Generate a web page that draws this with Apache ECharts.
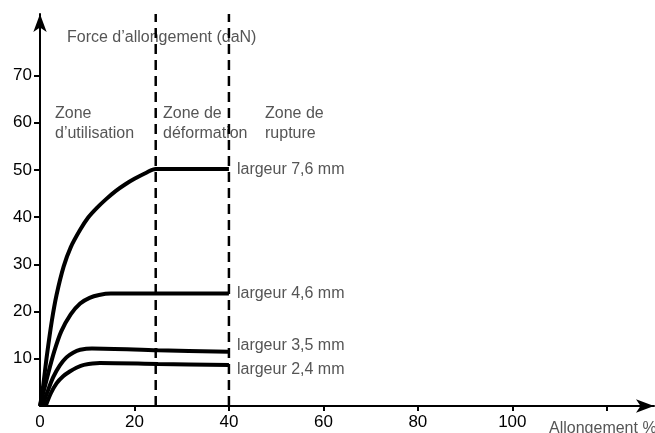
<!DOCTYPE html>
<html><head><meta charset="utf-8">
<script src="https://cdn.jsdelivr.net/npm/echarts@6/dist/echarts.min.js"></script>
<style>html,body{margin:0;padding:0;background:#fff}#c{width:655px;height:433px}</style>
</head><body><div id="c"></div>
<script>
const xTicks = [20, 40, 60, 80, 100, 120];
const xLabels = [0, 20, 40, 60, 80, 100];
const yTicks = [10, 20, 30, 40, 50, 60, 70];
const zoneLimits = [24.5, 40];
const curve76 = [[0,0],[0.5,3],[1.5,11],[2.5,18],[3.5,23.5],[5,29.5],[6.5,33.6],[8.5,37.3],[10.2,39.9],[12,41.9],[14,43.8],[16,45.5],[18,46.9],[20,48.1],[22.5,49.4],[24.5,50.2],[32,50.2],[40,50.2]];
const curve46 = [[0,0],[1.5,6],[3,11.5],[4.5,15.8],[6.5,19.4],[8.5,21.7],[10.5,22.9],[12.5,23.5],[15,23.8],[28,23.8],[40,23.8]];
const curve35 = [[0.5,0],[1.5,2.8],[2.8,6.1],[4.2,8.6],[5.6,10.3],[7,11.3],[8.5,11.9],[11,12.2],[25,11.8],[40,11.5]];
const curve24 = [[1.2,0],[2.3,2.7],[3.5,4.8],[4.9,6.3],[6.3,7.3],[7.7,8.1],[9.3,8.7],[12.7,9.1],[25,8.9],[40,8.7]];
const seriesNames = ['largeur 7,6 mm','largeur 4,6 mm','largeur 3,5 mm','largeur 2,4 mm'];
const labelShift = [1, 0, -6, 5];
const yMax = 83, xMax = 130;

const FONT = '"Liberation Sans", Arial, sans-serif';
const GRAY = '#555';
const chart = echarts.init(document.getElementById('c'), null, {renderer:'canvas'});

function curve(name, data, dy){
  return {
    name, type:'line', data, smooth:0.3, symbol:'none',
    lineStyle:{color:'#000', width:4}, silent:true,
    endLabel:{show:true, formatter:'{a}', color:GRAY, fontFamily:FONT, fontSize:16, distance:8, offset:[0,dy]},
    labelLayout:{hideOverlap:false}
  };
}
function dashed(x){
  return {type:'line', data:[[x,0],[x,yMax]], symbol:'none', silent:true,
    lineStyle:{color:'#000', width:2.5, type:[10,6]}};
}
const curves = [curve76, curve46, curve35, curve24];

chart.setOption({
  animation:false,
  grid:{left:40, right:1, top:14, bottom:27},
  xAxis:{type:'value', min:0, max:xMax,
    axisLine:{lineStyle:{color:'#000', width:2}, symbol:['none','arrow'], symbolSize:[10,18]},
    axisTick:{show:true, length:5, customValues:xTicks, lineStyle:{color:'#000', width:2}},
    axisLabel:{customValues:xLabels, color:'#000', fontFamily:FONT, fontSize:17, margin:8},
    splitLine:{show:false}},
  yAxis:{type:'value', min:0, max:yMax,
    axisLine:{show:true, lineStyle:{color:'#000', width:2}, symbol:['none','arrow'], symbolSize:[10,18]},
    axisTick:{show:true, length:6, customValues:yTicks, lineStyle:{color:'#000', width:2}},
    axisLabel:{customValues:yTicks, color:'#000', fontFamily:FONT, fontSize:17, margin:8},
    splitLine:{show:false}},
  series:[...zoneLimits.map(dashed), ...curves.map((d,i)=>curve(seriesNames[i], d, labelShift[i]))],
  graphic:[
    {type:'text', left:67, top:30, style:{text:'Force d’allongement (daN)', fill:GRAY, font:'16px '+FONT}},
    {type:'text', left:55, top:104, style:{text:'Zone\nd’utilisation', fill:GRAY, font:'16px '+FONT, lineHeight:20}},
    {type:'text', left:163, top:104, style:{text:'Zone de\ndéformation', fill:GRAY, font:'16px '+FONT, lineHeight:20}},
    {type:'text', left:265, top:104, style:{text:'Zone de\nrupture', fill:GRAY, font:'16px '+FONT, lineHeight:20}},
    {type:'text', left:549, top:421, style:{text:'Allongement %', fill:GRAY, font:'16px '+FONT}}
  ]
});
</script></body></html>
